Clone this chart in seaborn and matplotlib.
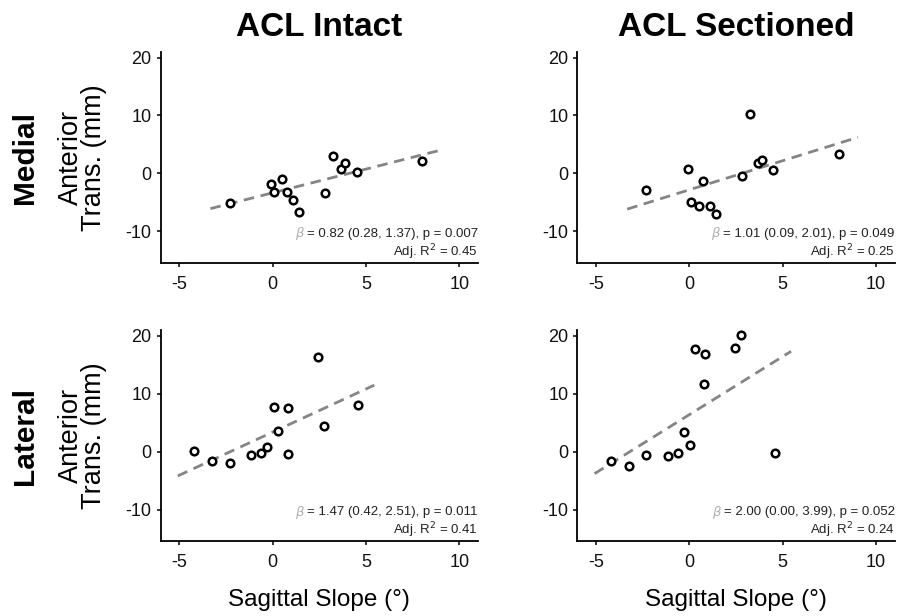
import numpy as np
import pandas as pd
import matplotlib
matplotlib.use("Agg")
import matplotlib.pyplot as plt
import seaborn as sns

# sagittal slope (deg), same subjects in both columns of a row
medial_slope = [-2.3, -0.1, 0.1, 0.5, 0.75, 1.1, 1.4, 2.8, 3.25, 3.65, 3.9, 4.5, 8.0]
lateral_slope = [-4.2, -3.25, -2.3, -1.15, -0.6, -0.3, 0.05, 0.3, 0.8, 0.85, 2.45, 2.75, 4.57]

# anterior translation (mm)
medial_intact = [-5.2, -1.9, -3.2, -0.9, -3.2, -4.6, -6.6, -3.45, 3.0, 0.8, 1.8, 0.2, 2.1]
medial_sectioned = [-2.9, 0.7, -5.0, -5.6, -1.4, -5.6, -7.1, -0.5, 10.2, 1.8, 2.3, 0.5, 3.4]
lateral_intact = [0.2, -1.6, -1.9, -0.6, -0.2, 0.8, 7.7, 3.5, -0.4, 7.5, 16.4, 4.5, 8.0]
lateral_sectioned = [-1.6, -2.4, -0.6, -0.7, -0.2, 3.4, 1.2, 17.8, 11.7, 16.9, 17.9, 20.1, -0.3]

col_titles = ["ACL Intact", "ACL Sectioned"]
row_titles = ["Medial", "Lateral"]
stats_lines = [
    ["= 0.82 (0.28, 1.37), p = 0.007", "= 1.01 (0.09, 2.01), p = 0.049"],
    ["= 1.47 (0.42, 2.51), p = 0.011", "= 2.00 (0.00, 3.99), p = 0.052"],
]
adj_r2 = [["0.45", "0.25"], ["0.41", "0.24"]]

panels = [
    [(medial_slope, medial_intact), (medial_slope, medial_sectioned)],
    [(lateral_slope, lateral_intact), (lateral_slope, lateral_sectioned)],
]

sns.set_theme(style="ticks")
plt.rcParams["font.family"] = ["Liberation Sans", "DejaVu Sans"]
plt.rcParams["mathtext.fontset"] = "dejavusans"
plt.rcParams["axes.unicode_minus"] = False
plt.rcParams["text.color"] = "black"
plt.rcParams["axes.labelcolor"] = "black"

fig, axes = plt.subplots(2, 2, figsize=(9.02, 6.16), dpi=100)
fig.subplots_adjust(left=0.178, right=0.992, top=0.916, bottom=0.121,
                    wspace=0.313, hspace=0.317)

for r in range(2):
    for c in range(2):
        ax = axes[r, c]
        x, y = panels[r][c]
        df = pd.DataFrame({"slope": x, "trans": y})

        # least squares line, drawn a bit past the data range
        b1, b0 = np.polyfit(df["slope"], df["trans"], 1)
        span = df["slope"].max() - df["slope"].min()
        xs = np.array([df["slope"].min() - 0.1 * span, df["slope"].max() + 0.1 * span])
        fit = pd.DataFrame({"slope": xs, "trans": b0 + b1 * xs})
        sns.lineplot(data=fit, x="slope", y="trans", ax=ax, color="#858585",
                     linewidth=2.0, linestyle=(0, (3.8, 2.4)))

        sns.scatterplot(data=df, x="slope", y="trans", ax=ax, s=30,
                        facecolor="white", edgecolor="black", linewidth=1.8,
                        zorder=3)

        ax.set_xlim(-6, 11)
        ax.set_ylim(-15.5, 21)
        ax.set_xticks([-5, 0, 5, 10])
        ax.set_yticks([-10, 0, 10, 20])
        sns.despine(ax=ax)
        for s in ["left", "bottom"]:
            ax.spines[s].set_linewidth(1.3)
            ax.spines[s].set_color("black")
        ax.tick_params(labelsize=13, length=3, width=1.1, color="black",
                       labelcolor="#111111")
        ax.tick_params(axis="x", pad=6)

        t = ax.text(1.0, 0.139, stats_lines[r][c], transform=ax.transAxes,
                    ha="right", va="center", fontsize=9.5, color="#222222")
        ax.annotate(r"$\beta$", xy=(0, 0.5), xycoords=t, ha="right",
                    va="center", fontsize=9.5, color="#b0b0b0",
                    xytext=(-1.5, 0), textcoords="offset points")
        ax.text(1.0, 0.053, "Adj. R$^2$ = " + adj_r2[r][c], transform=ax.transAxes,
                ha="right", va="center", fontsize=9.5, color="#222222")

        if c == 0:
            ax.set_ylabel("Anterior\nTrans. (mm)", fontsize=19.5, linespacing=0.85)
            ax.yaxis.set_label_coords(-0.168, 0.5)
        else:
            ax.set_ylabel("")
        if r == 1:
            ax.set_xlabel("Sagittal Slope (°)", fontsize=17.5, labelpad=13)
        else:
            ax.set_xlabel("")
        if r == 0:
            ax.set_title(col_titles[c], fontsize=24, fontweight="bold", pad=11)

for r, name in enumerate(row_titles):
    bb = axes[r, 0].get_position()
    fig.text(0.028, (bb.y0 + bb.y1) / 2, name, rotation=90, ha="center",
             va="center", fontsize=21.5, fontweight="bold")

fig.savefig("out.png", dpi=100, facecolor="white")
